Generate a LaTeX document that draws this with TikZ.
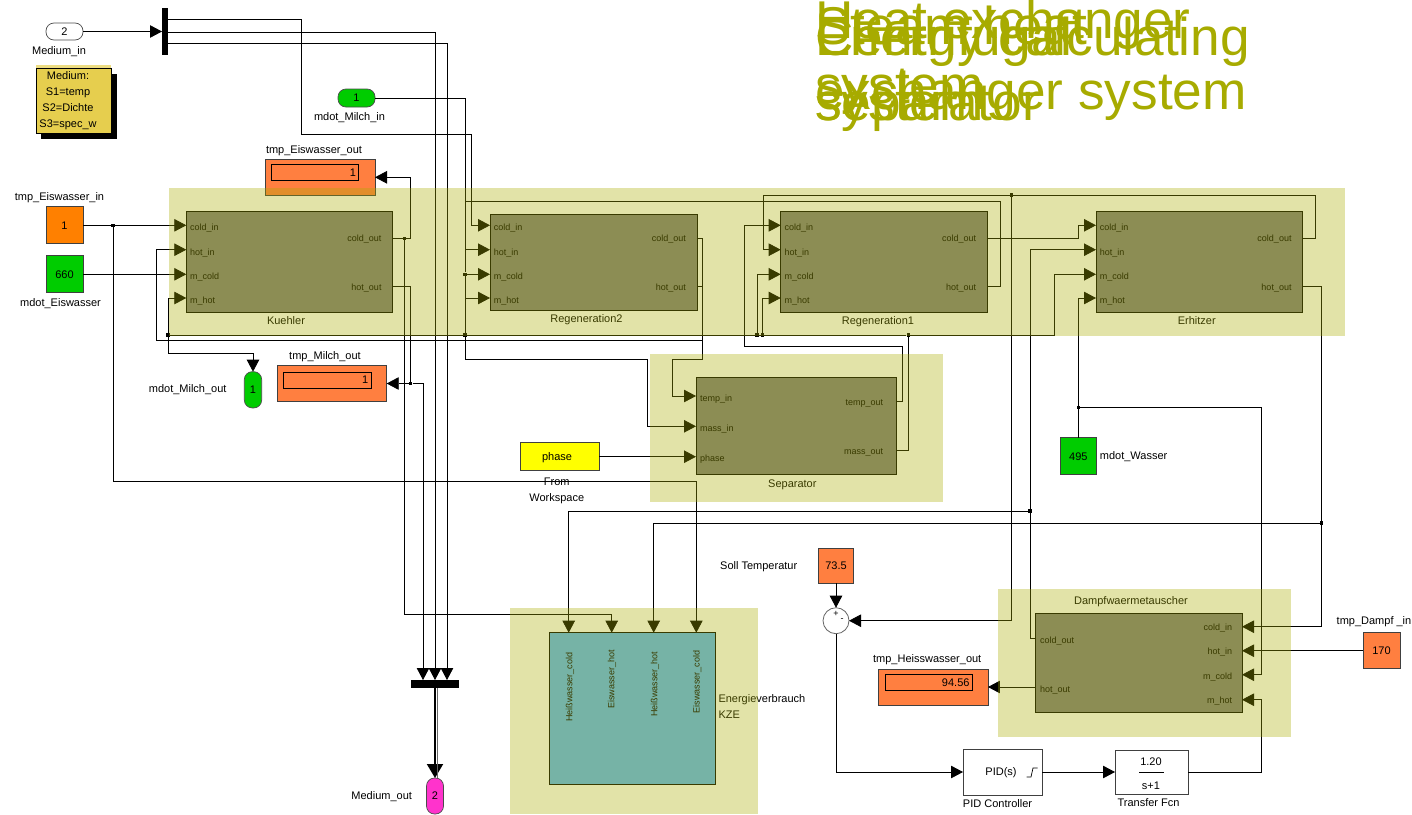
\documentclass[tikz,border=0pt]{standalone}
\usepackage{fontspec}
\setmainfont{Liberation Sans}
\usetikzlibrary{positioning,arrows.meta}
\definecolor{bandcol}{RGB}{169,173,0}
\definecolor{titlecol}{RGB}{167,171,0}
\definecolor{blockcol}{RGB}{125,125,128}
\definecolor{kzecol}{RGB}{93,183,252}
\definecolor{simgreen}{RGB}{0,204,0}
\definecolor{simorange}{RGB}{255,128,0}
\definecolor{simyellow}{RGB}{255,255,0}
\definecolor{dispcol}{RGB}{255,127,64}
\definecolor{notecol}{RGB}{230,206,78}
\definecolor{portpink}{RGB}{255,51,204}

\begin{document}
\begin{tikzpicture}[
    x=1pt, y=-1pt,
    lbl/.style={inner sep=0pt, font=\fontsize{11}{13}\selectfont, align=center},
    port/.style={inner sep=0pt, font=\fontsize{9}{11}\selectfont},
    headline/.style={inner sep=0pt, anchor=north west, align=left, text=titlecol, font=\fontsize{53.2}{65}\selectfont},
    block/.style={rectangle, draw, line width=.8pt, fill=blockcol, inner sep=0pt, outer sep=0pt, anchor=north west},
    band/.style={rectangle, fill=bandcol, fill opacity=.34, inner sep=0pt, anchor=north west},
    const/.style={rectangle, draw=black!75, line width=.8pt, inner sep=0pt, outer sep=0pt, font=\fontsize{11}{13}\selectfont},
    oval/.style={rectangle, rounded corners=8pt, draw=black!70, line width=.7pt, inner sep=0pt, outer sep=0pt, font=\fontsize{11}{13}\selectfont},
    disp/.style={rectangle, draw=black!75, line width=.8pt, fill=dispcol, minimum height=36pt, inner sep=0pt, outer sep=0pt},
    dispval/.style={rectangle, draw, line width=.8pt, minimum height=16pt, inner sep=0pt, align=right, font=\fontsize{11}{13}\selectfont},
    bar/.style={rectangle, fill=black, inner sep=0pt, outer sep=0pt},
    jct/.style={rectangle, fill=black, minimum size=3.4pt, inner sep=0pt},
    net/.style={line width=.8pt},
    wire/.style={line width=.8pt, -{Triangle[length=12pt,width=12.5pt]}},
    buswire/.style={line width=2pt, -{Triangle[length=14pt,width=16pt]}}
]
\useasboundingbox (0,0) rectangle (1412,814);

% Title texts
\node[headline] (ttlheat) at (815,0) {Heat exchanger\\system};
\node[headline] (ttlsteam) at (815,6) {Steam heat\\exchanger system};
\node[headline] (ttlenergy) at (815,16.5) {Energy calculating\\system};
\node[headline] (ttlcentri) at (815,16.5) {Centrifugal\\separator};

% Medium in and note
\node[oval, fill=white, minimum width=37pt, minimum height=17pt] (medin) at (64.5,31.5) {2};
\node[lbl, below=6pt of medin, xshift=-5.5pt] (medinlab) {Medium\_in};
\node[bar, minimum width=6pt, minimum height=47pt] (demux) at (165,31.5) {};
\fill[notecol!70!white] (35.5,65) rectangle (111,68);
\node[bar, minimum width=75.5pt, minimum height=65pt, anchor=north west] (noteshadow) at (41,74) {};
\node[rectangle, draw, line width=.8pt, fill=notecol, minimum width=75.5pt, minimum height=65pt, inner sep=0pt, anchor=north west] (note) at (35.5,68) {};
\node[lbl, font=\fontsize{11}{16}\selectfont] (notetxt) at (68,101) {Medium:\\S1=temp\\S2=Dichte\\S3=spec\_w};

% Sources on the left
\node[oval, fill=simgreen, minimum width=37pt, minimum height=18pt] (milin) at (356.5,98) {1};
\node[lbl, below=5pt of milin, xshift=-7pt] (milinlab) {mdot\_Milch\_in};
\node[const, fill=simorange, minimum size=37pt] (eisin) at (64.5,225.3) {1};
\node[lbl, above=4pt of eisin, xshift=-5pt] (eisinlab) {tmp\_Eiswasser\_in};
\node[const, fill=simgreen, minimum size=37pt] (mdeis) at (64.5,274.3) {660};
\node[lbl, below=6pt of mdeis, xshift=-4pt] (mdeislab) {mdot\_Eiswasser};

% Displays
\node[disp, minimum width=110pt] (eisout) at (320,177.3) {};
\node[dispval, minimum width=87.4pt, text width=82pt] (eisval) at (315,172.7) {1};
\node[lbl, above=3pt of eisout, xshift=-6pt] (eisoutlab) {tmp\_Eiswasser\_out};
\node[disp, minimum width=109.4pt] (milout) at (332,383.5) {};
\node[dispval, minimum width=87.4pt, text width=82pt] (milval) at (327.3,380) {1};
\node[lbl, above=4pt of milout, xshift=-7pt] (miloutlab) {tmp\_Milch\_out};
\node[oval, fill=simgreen, minimum width=17.4pt, minimum height=36.3pt] (mildot) at (253,389.8) {1};
\node[lbl] (mildotlab) at (187.7,390) {mdot\_Milch\_out};

% Function blocks with four inlets
\node[block, minimum width=206.4pt, minimum height=100.6pt] (ku) at (186.3,211.7) {};
\node[block, minimum width=207pt, minimum height=96pt] (rb) at (490,214) {};
\node[block, minimum width=206.6pt, minimum height=100.6pt] (ra) at (780.7,211.7) {};
\node[block, minimum width=206.7pt, minimum height=100.6pt] (er) at (1096,211.7) {};
\foreach \name/\xl/\xr in {ku/186.3/392.7, rb/490/697, ra/780.7/987.3, er/1096/1302.7} {
    \coordinate (\name_ci) at (\xl,225.3);
    \coordinate (\name_hi) at (\xl,249.7);
    \coordinate (\name_mc) at (\xl,274.3);
    \coordinate (\name_mh) at (\xl,298);
    \coordinate (\name_co) at (\xr,238.3);
    \coordinate (\name_ho) at (\xr,286.3);
    \node[port, anchor=west] (\name_cil) at (\xl+3.7,228) {cold\_in};
    \node[port, anchor=west] (\name_hil) at (\xl+3.7,253) {hot\_in};
    \node[port, anchor=west] (\name_mcl) at (\xl+3.7,277) {m\_cold};
    \node[port, anchor=west] (\name_mhl) at (\xl+3.7,301) {m\_hot};
    \node[port, anchor=east] (\name_col) at (\xr-11,239.5) {cold\_out};
    \node[port, anchor=east] (\name_hol) at (\xr-11,288) {hot\_out};
}
\node[lbl, below=4.5pt of ku, xshift=-3.5pt] (kulab) {Kuehler};
\node[lbl, below=4.5pt of rb, xshift=-7pt] (rblab) {Regeneration2};
\node[lbl, below=4.5pt of ra, xshift=-6pt] (ralab) {Regeneration1};
\node[lbl, below=4.5pt of er, xshift=-2.6pt] (erlab) {Erhitzer};

% Separator
\node[block, minimum width=200.7pt, minimum height=97.4pt] (sep) at (696,377.3) {};
\coordinate (sep_ti) at (696,396);
\coordinate (sep_mi) at (696,426.3);
\coordinate (sep_ph) at (696,456.7);
\coordinate (sep_to) at (896.7,401);
\coordinate (sep_mo) at (896.7,450.7);
\node[port, anchor=west] (sep_til) at (700,399) {temp\_in};
\node[port, anchor=west] (sep_mil) at (700,429) {mass\_in};
\node[port, anchor=west] (sep_phl) at (700,459) {phase};
\node[port, anchor=east] (sep_tol) at (883.3,404) {temp\_out};
\node[port, anchor=east] (sep_mol) at (883.3,452) {mass\_out};
\node[lbl, below=5pt of sep, xshift=-4pt] (seplab) {Separator};
\node[const, fill=simyellow, minimum width=79pt, minimum height=28pt] (phase) at (559.8,456.7) {};
\node[lbl] (phasetxt) at (557,458) {phase};
\node[lbl, below=7pt of phase, xshift=-3pt, font=\fontsize{11}{16}\selectfont] (phaselab) {From\\Workspace};

% Energy block
\node[block, fill=kzecol, minimum width=166pt, minimum height=152pt] (kze) at (549,632.7) {};
\coordinate (kze_hc) at (568.7,632.7);
\coordinate (kze_eh) at (611.7,632.7);
\coordinate (kze_hh) at (653.7,632.7);
\coordinate (kze_ec) at (696.3,632.7);
\node[port, rotate=90] (kze_hcl) at (570,687) {Heißwasser\_cold};
\node[port, rotate=90] (kze_ehl) at (612,679.3) {Eiswasser\_hot};
\node[port, rotate=90] (kze_hhl) at (655,684) {Heißwasser\_hot};
\node[port, rotate=90] (kze_ecl) at (697.3,682) {Eiswasser\_cold};
\node[lbl, anchor=north west, align=left, font=\fontsize{11}{16}\selectfont] (kzelab) at (718.3,694) {Energieverbrauch\\KZE};

% Bus to Medium out
\node[bar, minimum width=48pt, minimum height=8pt] (busbar) at (435,684) {};
\coordinate (bus1) at (423,680);
\coordinate (bus2) at (435,680);
\coordinate (bus3) at (447,680);
\node[oval, fill=portpink, minimum width=17pt, minimum height=36pt] (medout) at (435,796) {2};
\node[lbl] (medoutlab) at (381.7,797) {Medium\_out};

% Steam exchanger
\node[block, minimum width=206.5pt, minimum height=99pt] (da) at (1035.5,613) {};
\coordinate (da_ci) at (1242,626.7);
\coordinate (da_hi) at (1242,650.7);
\coordinate (da_mc) at (1242,674.7);
\coordinate (da_mh) at (1242,699.7);
\coordinate (da_co) at (1035.5,638);
\coordinate (da_ho) at (1035.5,687);
\node[port, anchor=east] (da_cil) at (1232.4,628) {cold\_in};
\node[port, anchor=east] (da_hil) at (1232.4,652) {hot\_in};
\node[port, anchor=east] (da_mcl) at (1232.4,677) {m\_cold};
\node[port, anchor=east] (da_mhl) at (1232.4,701) {m\_hot};
\node[port, anchor=west] (da_col) at (1040,641.5) {cold\_out};
\node[port, anchor=west] (da_hol) at (1040,690) {hot\_out};
\node[lbl] (dalab) at (1131,602) {Dampfwaermetauscher};

% Controller
\node[const, fill=dispcol, minimum width=35.5pt, minimum height=35.5pt] (soll) at (836,565.7) {73.5};
\node[lbl] (solllab) at (758.7,566.7) {Soll Temperatur};
\node[circle, draw=black!60, line width=.8pt, fill=white, minimum size=26pt, inner sep=0pt, outer sep=0pt] (sum) at (836,620.7) {};
\node[port] (sumplus) at (836,614) {+};
\node[port] (summinus) at (842,620.5) {-};
\node[const, fill=white, minimum width=79pt, minimum height=46pt] (pid) at (1002.5,772) {};
\node[lbl] (pidtxt) at (1001,772.7) {PID(s)};
\draw[line width=.7pt] (1026.5,777) -- (1031,777) -- (1033,768) -- (1037.5,768);
\node[lbl, below=4pt of pid, xshift=-5pt] (pidlab) {PID Controller};
\node[const, fill=white, minimum width=73pt, minimum height=44pt] (tf) at (1151.5,772) {};
\node[lbl] (tfnum) at (1151,762) {1.20};
\draw[line width=.7pt] (1139,772) -- (1164,772);
\node[lbl] (tfden) at (1151,785.5) {s+1};
\node[lbl, below=4pt of tf, xshift=-3pt] (tflab) {Transfer Fcn};
\node[disp, minimum width=109.5pt] (heiss) at (933.2,687) {};
\node[dispval, minimum width=87pt, text width=82pt] (heissval) at (928.5,682.7) {94.56\hspace{5pt}};
\node[lbl, above=4pt of heiss, xshift=-6pt] (heisslab) {tmp\_Heisswasser\_out};
\node[const, fill=dispcol, minimum width=37pt, minimum height=36.3pt] (dampf) at (1381.5,650.7) {170};
\node[lbl] (dampflab) at (1374,622) {tmp\_Dampf \_in};
\node[const, fill=simgreen, minimum width=36.7pt, minimum height=37pt] (mdw) at (1078.3,456.3) {495};
\node[lbl, right=3pt of mdw] (mdwlab) {mdot\_Wasser};

% Branch points
\coordinate (dm1) at (168,19);
\coordinate (dm2) at (168,32);
\coordinate (dm3) at (168,43);
\node[jct] (jeisin) at (113,225.3) {};
\node[jct] (jkuco) at (404.7,238.3) {};
\node[jct] (jmilout) at (410.7,383.5) {};
\node[jct] (jrbmc) at (465,274.3) {};
\node[jct] (jku) at (168,335) {};
\node[jct] (jrbmh) at (465,335) {};
\node[jct] (jramc) at (757,335) {};
\node[jct] (jramh) at (762.7,335) {};
\node[jct] (jmass) at (908.3,335) {};
\node[jct] (jtop) at (1011.3,195) {};
\node[jct] (jcold) at (1030,511) {};
\node[jct] (jhot) at (1321.5,523) {};
\node[jct] (jmdw) at (1078.3,407.7) {};

% Arrows
\draw[wire] (medin) -- (demux);
\draw[wire] (dm1) -| (301.5,134) -| (471,225.3) -- (rb_ci);
\draw[wire] (dm2) -| (bus2);
\draw[wire] (dm3) -| (bus3);
\draw[net] (milin) -| (jrbmc);
\draw[wire] (jrbmc) -- (rb_mc);
\draw[wire] (jrbmc) -- (465,359) -| (647,426.3) -- (sep_mi);
\draw[wire] (eisin) -- (ku_ci);
\draw[wire] (mdeis) -- (ku_mc);
\draw[wire] (jeisin) |- (696.3,481) -- (kze_ec);
\draw[wire] (ku_co) -| (410.7,177.3) -- (eisout);
\draw[wire] (jkuco) |- (611.7,614) -- (kze_eh);
\draw[net] (ku_ho) -| (jmilout);
\draw[wire] (jmilout) -- (milout);
\draw[wire] (jmilout) -| (bus1);
\draw[wire] (rb_co) -| (702.3,359) -| (672.3,396) -- (sep_ti);
\draw[wire] (rb_ho) -| (702.3,340.7) -| (156,249.7) -- (ku_hi);
\draw[wire] (ra_ho) -| (1000,201) -| (465,249.7) -- (rb_hi);
\draw[wire] (ra_co) -| (1078.3,225.3) -- (er_ci);
\draw[wire] (er_co) -| (1315,195) -| (763,249.7) -- (ra_hi);
\draw[wire] (jtop) |- (sum);
\draw[wire] (sep_to) -| (902.7,346.7) -| (744.3,225.3) -- (ra_ci);
\draw[net] (sep_mo) -| (jmass);
\draw[net] (jku) -- (jmass);
\draw[wire] (jmass) -| (1054.3,274.3) -- (er_mc);
\draw[wire] (jku) |- (ku_mh);
\draw[wire] (jku) |- (253,353) -- (mildot);
\draw[wire] (jrbmh) |- (rb_mh);
\draw[wire] (jramc) |- (ra_mc);
\draw[wire] (jramh) |- (ra_mh);
\draw[wire] (phase) -- (sep_ph);
\draw[net] (da_co) -| (jcold);
\draw[wire] (jcold) |- (er_hi);
\draw[wire] (jcold) -| (kze_hc);
\draw[net] (er_ho) -| (jhot);
\draw[wire] (jhot) |- (da_ci);
\draw[wire] (jhot) -| (kze_hh);
\draw[wire] (mdw) |- (er_mh);
\draw[wire] (jmdw) -| (1261,674.7) -- (da_mc);
\draw[wire] (dampf) -- (da_hi);
\draw[wire] (tf) -| (1261,699.7) -- (da_mh);
\draw[wire] (pid) -- (tf);
\draw[wire] (sum) |- (pid);
\draw[wire] (soll) -- (sum);
\draw[wire] (da_ho) -- (heiss);
\draw[buswire] (busbar) -- (medout);
\draw[net, black!60] ([xshift=2pt]busbar.south) -- ([xshift=2pt]medout.north);

% Shaded groups
\node[band, minimum width=1176pt, minimum height=147.7pt] (bandmain) at (169,188) {};
\node[band, minimum width=293pt, minimum height=147.7pt] (bandsep) at (650,354) {};
\node[band, minimum width=248pt, minimum height=206pt] (bandkze) at (510,608) {};
\node[band, minimum width=293pt, minimum height=148pt] (bandda) at (998,589) {};

\end{tikzpicture}
\end{document}
